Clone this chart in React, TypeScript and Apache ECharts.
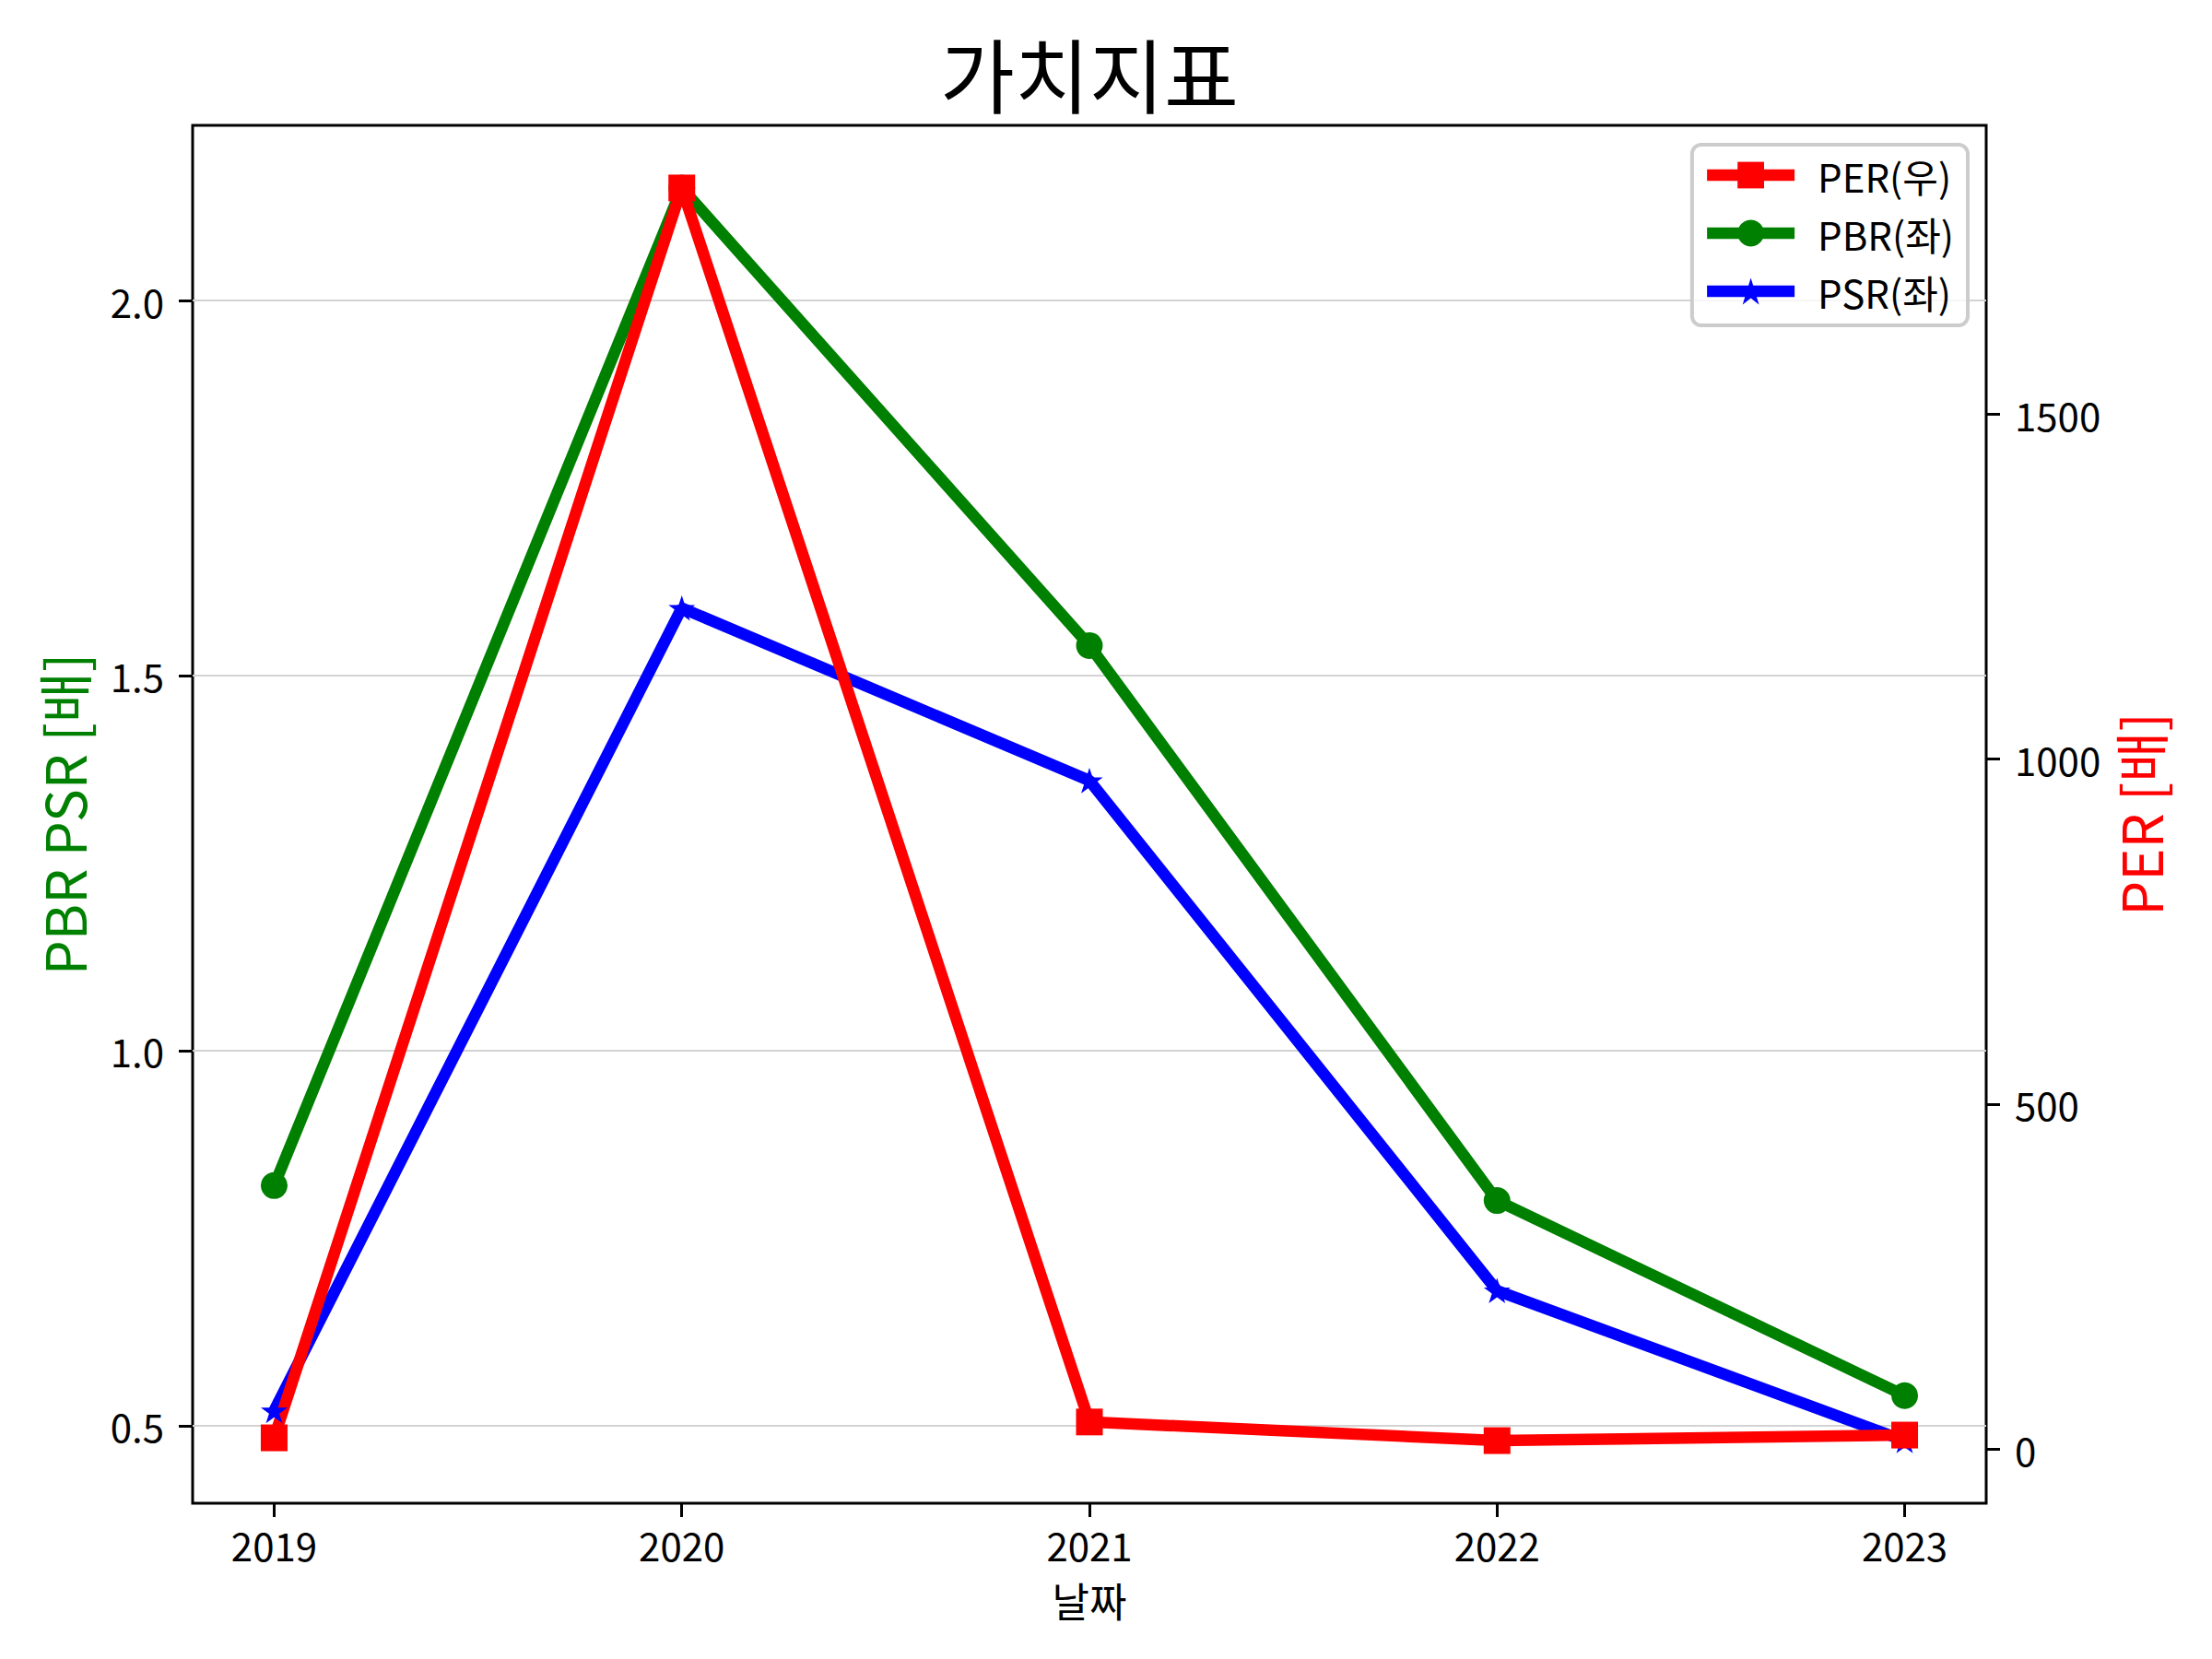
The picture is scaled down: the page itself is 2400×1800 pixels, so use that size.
import React, { useEffect, useRef } from 'react';
import * as echarts from 'echarts';

const years = [2019, 2020, 2021, 2022, 2023];
const perValues = [16, 1828, 39, 12, 20];
const pbrValues = [0.82, 2.15, 1.54, 0.8, 0.54];
const psrValues = [0.52, 1.59, 1.36, 0.68, 0.48];
const leftTicks = [0.5, 1.0, 1.5, 2.0];
const rightTicks = [0, 500, 1000, 1500];
const legendNames = ['PER(우)', 'PBR(좌)', 'PSR(좌)'];
const titleText = '가치지표';
const xName = '날짜';
const leftName = 'PBR PSR [배]';
const rightName = 'PER [배]';

const FONT = '"Noto Sans CJK KR", "Noto Sans", sans-serif';
const STAR =
  'path://M100,0 L122.45,69.1 L195.11,69.1 L136.33,111.8 L158.78,180.9 L100,138.2 L41.22,180.9 L63.67,111.8 L4.89,69.1 L77.55,69.1 Z';

function padRange(vals: number[], frac: number) {
  const lo = Math.min(...vals);
  const hi = Math.max(...vals);
  const m = (hi - lo) * frac;
  return [lo - m, hi + m];
}

export default function App() {
  const ref = useRef<HTMLDivElement>(null);
  useEffect(() => {
    if (!ref.current) return;
    const chart = echarts.init(ref.current, null, { renderer: 'svg' });
    const [lMin, lMax] = padRange([...pbrValues, ...psrValues], 0.05);
    const [rMin, rMax] = padRange(perValues, 0.05);
    const [xMin, xMax] = padRange(years, 0.05);
    const tickStyle = { color: '#000', width: 3 };
    const labelBase = { color: '#000', fontSize: 42, fontFamily: FONT };
    const LW = 12.5;
    chart.setOption({
      animation: false,
      backgroundColor: '#ffffff',
      textStyle: { fontFamily: FONT },
      graphic: [
        {
          type: 'text',
          x: 1182,
          y: 77,
          style: {
            text: titleText,
            fontSize: 88,
            fontFamily: FONT,
            fill: '#000',
            align: 'center',
            verticalAlign: 'middle',
          },
        },
      ],
      grid: {
        left: 209,
        right: 245,
        top: 136,
        bottom: 169,
        show: true,
        borderColor: '#000',
        borderWidth: 3,
        backgroundColor: 'transparent',
        containLabel: false,
        outerBoundsMode: 'none',
      },
      legend: {
        data: legendNames,
        orient: 'vertical',
        right: 265,
        top: 157,
        itemWidth: 95,
        itemHeight: 36,
        itemGap: 21,
        padding: [12, 15, 16, 10],
        selectedMode: false,
        backgroundColor: 'rgba(255,255,255,0.8)',
        borderColor: '#cccccc',
        borderWidth: 4,
        borderRadius: 10,
        lineStyle: { width: LW },
        textStyle: { fontSize: 42, color: '#000', fontFamily: FONT, padding: [0, 0, 0, 20] },
      },
      xAxis: {
        type: 'value',
        min: xMin,
        max: xMax,
        axisLine: { show: false, onZero: false },
        axisTick: { show: true, customValues: years, length: 15, lineStyle: tickStyle },
        axisLabel: {
          ...labelBase,
          customValues: years,
          margin: 23,
          formatter: (v: number) => String(Math.round(v)),
        },
        splitLine: { show: false },
        name: xName,
        nameLocation: 'middle',
        nameGap: 83,
        nameTextStyle: { color: '#000', fontSize: 44, fontFamily: FONT },
      },
      yAxis: [
        {
          type: 'value',
          position: 'left',
          min: lMin,
          max: lMax,
          splitNumber: 4,
          axisLine: { show: false },
          axisTick: { show: true, customValues: leftTicks, length: 15, lineStyle: tickStyle },
          axisLabel: {
            ...labelBase,
            customValues: leftTicks,
            margin: 31,
            formatter: (v: number) => v.toFixed(1),
          },
          splitLine: { show: true, lineStyle: { color: '#d3d3d3', width: 2 } },
          name: leftName,
          nameLocation: 'middle',
          nameGap: 112,
          nameRotate: 90,
          nameTextStyle: { color: '#008000', fontSize: 60, fontFamily: FONT },
        },
        {
          type: 'value',
          position: 'right',
          min: rMin,
          max: rMax,
          axisLine: { show: false },
          axisTick: { show: true, customValues: rightTicks, length: 15, lineStyle: tickStyle },
          axisLabel: {
            ...labelBase,
            customValues: rightTicks,
            margin: 31,
            formatter: (v: number) => String(Math.round(v)),
          },
          splitLine: { show: false },
          name: rightName,
          nameLocation: 'middle',
          nameGap: 134,
          nameRotate: 90,
          nameTextStyle: { color: '#ff0000', fontSize: 60, fontFamily: FONT },
        },
      ],
      series: [
        {
          name: 'PBR(좌)',
          type: 'line',
          yAxisIndex: 0,
          data: years.map((y, i) => [y, pbrValues[i]]),
          symbol: 'circle',
          symbolSize: 29,
          lineStyle: { color: '#008000', width: LW },
          itemStyle: { color: '#008000' },
        },
        {
          name: 'PSR(좌)',
          type: 'line',
          yAxisIndex: 0,
          data: years.map((y, i) => [y, psrValues[i]]),
          symbol: STAR,
          symbolKeepAspect: true,
          symbolSize: 29,
          lineStyle: { color: '#0000ff', width: LW },
          itemStyle: { color: '#0000ff' },
        },
        {
          name: 'PER(우)',
          type: 'line',
          yAxisIndex: 1,
          data: years.map((y, i) => [y, perValues[i]]),
          symbol: 'rect',
          symbolSize: 29,
          lineStyle: { color: '#ff0000', width: LW },
          itemStyle: { color: '#ff0000' },
        },
      ],
    });
    return () => chart.dispose();
  }, []);
  return (
    <div
      ref={ref}
      style={{ position: 'absolute', left: 0, top: 0, width: 2400, height: 1800 }}
    />
  );
}
